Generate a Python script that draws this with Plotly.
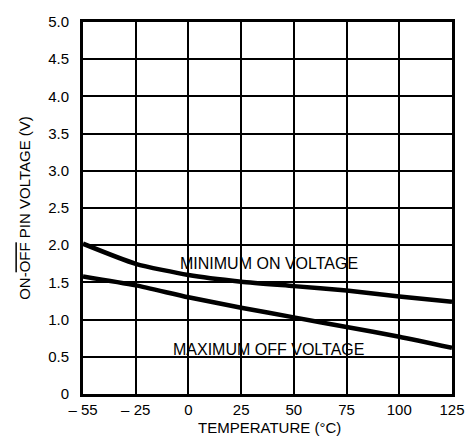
import plotly.graph_objects as go

# Data
temp_labels = ["\u2013 55", "\u2013 25", "0", "25", "50", "75", "100", "125"]
min_on_voltage = [2.02, 1.75, 1.60, 1.51, 1.45, 1.39, 1.31, 1.24]
max_off_voltage = [1.58, 1.46, 1.30, 1.16, 1.03, 0.90, 0.77, 0.62]
y_tick_vals = [0, 0.5, 1.0, 1.5, 2.0, 2.5, 3.0, 3.5, 4.0, 4.5, 5.0]
y_tick_text = ["0", "0.5", "1.0", "1.5", "2.0", "2.5", "3.0", "3.5", "4.0", "4.5", "5.0"]
series_labels = ["MINIMUM ON VOLTAGE", "MAXIMUM OFF VOLTAGE"]
x_title = "TEMPERATURE (\u00b0C)"
y_title = 'ON-<span style="text-decoration:overline">OFF</span> PIN VOLTAGE (V)'

FONT = "Liberation Sans, Arial, Helvetica, sans-serif"

fig = go.Figure()
fig.add_trace(go.Scatter(x=temp_labels, y=min_on_voltage, mode="lines",
                         line=dict(color="black", width=4.5, shape="spline", smoothing=0.6),
                         showlegend=False, hoverinfo="skip"))
fig.add_trace(go.Scatter(x=temp_labels, y=max_off_voltage, mode="lines",
                         line=dict(color="black", width=4.5, shape="spline", smoothing=0.6),
                         showlegend=False, hoverinfo="skip"))

fig.add_annotation(x=0.504, xref="paper", y=1.75, yref="y", text=series_labels[0],
                   showarrow=False, font=dict(family=FONT, size=16, color="black"))
fig.add_annotation(x=0.504, xref="paper", y=0.60, yref="y", text=series_labels[1],
                   showarrow=False, font=dict(family=FONT, size=16, color="black"))
fig.add_annotation(x=0.505, xref="paper", y=-0.0645, yref="paper", text=x_title,
                   showarrow=False, yanchor="top", borderpad=0,
                   font=dict(family=FONT, size=15, color="black"))

fig.update_layout(
    width=476, height=448,
    margin=dict(l=83, r=24, t=22, b=54),
    paper_bgcolor="white", plot_bgcolor="white",
    font=dict(family=FONT, size=15, color="black"),
    xaxis=dict(type="category", categoryorder="array", categoryarray=temp_labels,
               range=[0, 7], showgrid=True, gridcolor="black", gridwidth=2,
               showline=True, linecolor="black", linewidth=3, mirror=True,
               ticks="", ticklabelstandoff=0, zeroline=False),
    yaxis=dict(range=[0, 5], tickvals=y_tick_vals, ticktext=y_tick_text,
               showgrid=True, gridcolor="black", gridwidth=2,
               showline=True, linecolor="black", linewidth=3, mirror=True,
               ticks="", ticklabelstandoff=8, zeroline=False,
               title=dict(text=y_title, standoff=14,
                          font=dict(family=FONT, size=15, color="black"))),
)

fig.write_html("out.html", config={"displayModeBar": False},
               post_script="document.body.style.margin='0';")
